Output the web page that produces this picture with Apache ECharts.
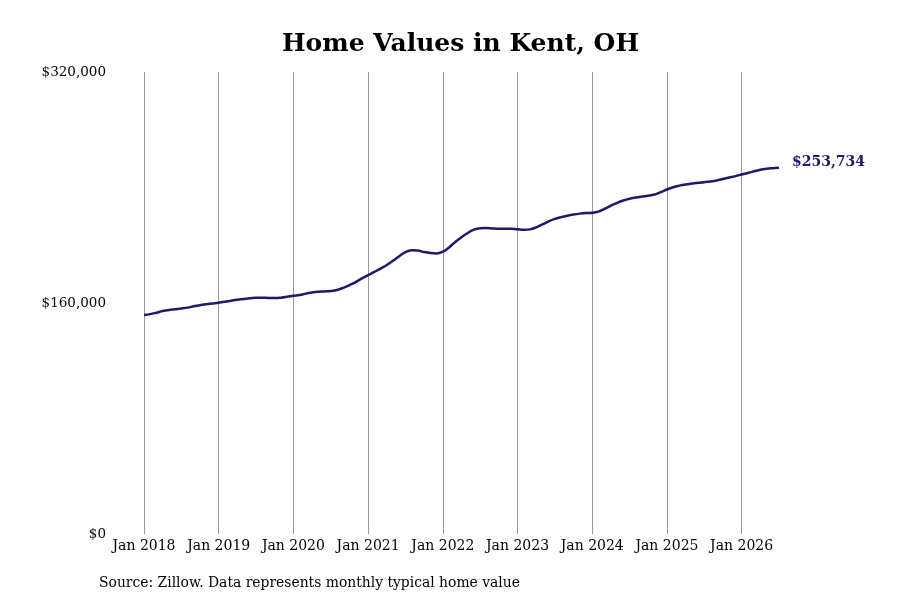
<html>
<head>
	<meta charset="utf-8">
</head>
<body style="margin:0;">
	<div id="main" style="width:900px;height:600px;"></div>
	<script src="https://cdn.jsdelivr.net/npm/echarts@6/dist/echarts.min.js"></script>
	<script>
		// monthly typical home value, Jan 2018 - Jul 2026
		var years = [2018, 2019, 2020, 2021, 2022, 2023, 2024, 2025, 2026];
		var values2018 = [151700, 152300, 153300, 154400, 155200, 155700, 156200, 156800, 157700, 158500, 159200, 159700];
		var values2019 = [160200, 160800, 161600, 162300, 162800, 163300, 163700, 163700, 163500, 163400, 163700, 164300];
		var values2020 = [165000, 165600, 166500, 167300, 167800, 168000, 168300, 169000, 170500, 172400, 174500, 177000];
		var values2021 = [179300, 181500, 183800, 186300, 189200, 192400, 195300, 196600, 196300, 195300, 194600, 194300];
		var values2022 = [195500, 198500, 202300, 205600, 208500, 210800, 211800, 211900, 211600, 211400, 211500, 211400];
		var values2023 = [211000, 210700, 211000, 212400, 214400, 216600, 218300, 219500, 220500, 221300, 221900, 222300];
		var values2024 = [222500, 223300, 225200, 227400, 229400, 231000, 232200, 233100, 233700, 234300, 235200, 236800];
		var values2025 = [238600, 240200, 241300, 242100, 242700, 243300, 243700, 244200, 244900, 245900, 246900, 247900];
		var values2026 = [249000, 250100, 251200, 252300, 253000, 253400, 253734];
		var monthNames = ['Jan', 'Feb', 'Mar', 'Apr', 'May', 'Jun', 'Jul', 'Aug', 'Sep', 'Oct', 'Nov', 'Dec'];

		var yearValues = [values2018, values2019, values2020, values2021, values2022,
			values2023, values2024, values2025, values2026];
		var categories = [];
		var values = [];
		for (var i = 0; i < years.length; i++) {
			for (var m = 0; m < yearValues[i].length; m++) {
				categories.push(monthNames[m] + ' ' + years[i]);
				values.push(yearValues[i][m]);
			}
		}

		function money(v) {
			return '$' + Math.round(v).toString().replace(/\B(?=(\d{3})+(?!\d))/g, ',');
		}

		var myChart = echarts.init(document.getElementById('main'), null, { renderer: 'canvas' });
		var serif = 'DejaVu Serif';
		var option = {
			backgroundColor: '#fff',
			animation: false,
			title: [{
				text: 'Home Values in Kent, OH',
				left: 277,
				top: 27,
				textStyle: { fontFamily: serif, fontSize: 25, fontWeight: 'bold', color: '#000' }
			}, {
				text: 'Source: Zillow. Data represents monthly typical home value',
				left: 94,
				top: 571,
				textStyle: { fontFamily: serif, fontSize: 13.9, fontWeight: 'normal', color: '#000' }
			}],
			grid: { left: 144, right: 121, top: 72, bottom: 66 },
			xAxis: {
				type: 'category',
				data: categories,
				boundaryGap: false,
				axisLine: { show: false },
				axisTick: { show: false },
				axisLabel: {
					interval: function (idx, val) { return idx % 12 === 0; },
					fontFamily: serif, fontSize: 14, color: '#000', margin: 5
				},
				splitLine: {
					show: true,
					interval: function (idx, val) { return idx % 12 === 0; },
					lineStyle: { color: '#999', width: 1 }
				}
			},
			yAxis: {
				type: 'value',
				min: 0,
				max: 320000,
				interval: 160000,
				axisLine: { show: false },
				axisTick: { show: false },
				splitLine: { show: false },
				axisLabel: {
					formatter: money,
					fontFamily: serif, fontSize: 13.5, color: '#000', margin: 38
				}
			},
			series: [{
				type: 'line',
				data: values,
				smooth: 0.4,
				showSymbol: false,
				lineStyle: { color: '#1b1a6b', width: 2.5 },
				endLabel: {
					show: true,
					formatter: function (p) { return money(p.value); },
					fontFamily: serif, fontSize: 14, fontWeight: 'bold', color: '#1b1a6b',
					distance: 13,
					offset: [0, -5]
				}
			}]
		};
		myChart.setOption(option);
	</script>
</body>
</html>
